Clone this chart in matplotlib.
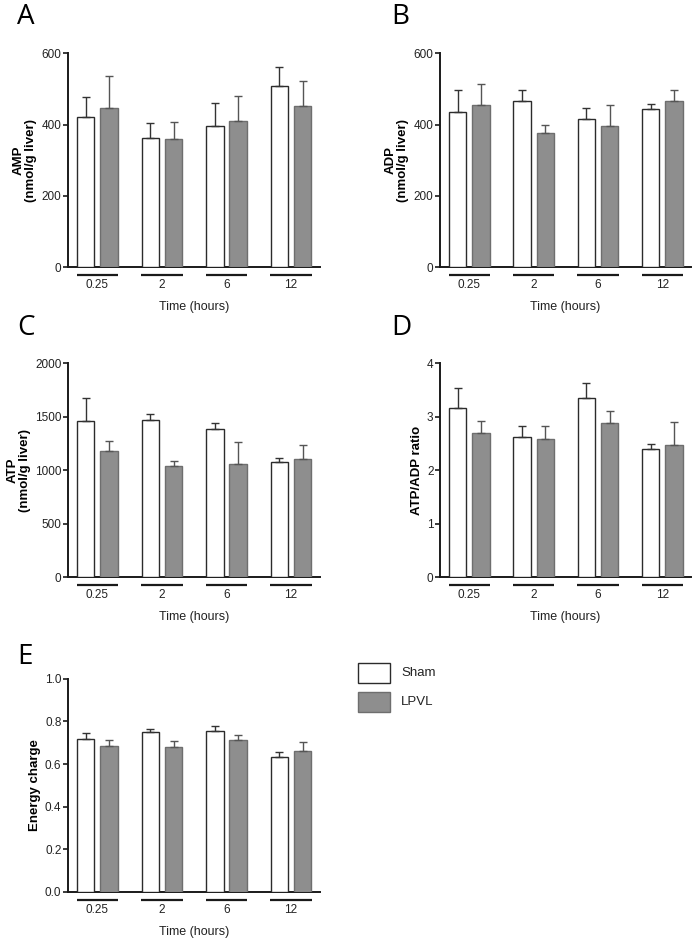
import matplotlib
matplotlib.use("Agg")
import matplotlib.pyplot as plt
import matplotlib.transforms as mtransforms
from matplotlib.patches import Rectangle
import numpy as np

plt.rcParams['font.family'] = ['Liberation Sans', 'DejaVu Sans']

# ---------------- data ----------------
times = ["0.25", "2", "6", "12"]
series = ["Sham", "LPVL"]

amp_sham = [420, 362, 395, 508]
amp_sham_err = [58, 42, 67, 54]
amp_lpvl = [448, 359, 411, 452]
amp_lpvl_err = [87, 49, 68, 69]

adp_sham = [436, 465, 416, 443]
adp_sham_err = [60, 32, 32, 15]
adp_lpvl = [454, 376, 395, 465]
adp_lpvl_err = [61, 24, 59, 33]

atp_sham = [1460, 1470, 1385, 1075]
atp_sham_err = [215, 55, 55, 40]
atp_lpvl = [1180, 1040, 1060, 1110]
atp_lpvl_err = [95, 50, 200, 125]

ratio_sham = [3.17, 2.63, 3.36, 2.39]
ratio_sham_err = [0.36, 0.19, 0.28, 0.11]
ratio_lpvl = [2.69, 2.59, 2.88, 2.47]
ratio_lpvl_err = [0.23, 0.23, 0.22, 0.44]

ec_sham = [0.717, 0.748, 0.753, 0.631]
ec_sham_err = [0.027, 0.016, 0.025, 0.024]
ec_lpvl = [0.684, 0.680, 0.711, 0.661]
ec_lpvl_err = [0.027, 0.029, 0.023, 0.044]

W, H = 696, 939
fig = plt.figure(figsize=(W / 100, H / 100), dpi=100)

WHITE_FILL = "white"
WHITE_EDGE = "#2b2b2b"
GREY_FILL = "#8e8e8e"
GREY_EDGE = "#6e6e6e"
AXC = "#1a1a1a"


def px_axes(left, top, right, bottom):
    return fig.add_axes([left / W, 1 - bottom / H, (right - left) / W, (bottom - top) / H])


def panel(ax, sham, sham_err, lpvl, lpvl_err, ymax, yticks, ylabel, fmt):
    x = np.arange(len(times))
    bw = 0.27
    off = 0.18
    ax.bar(x - off, sham, bw, color=WHITE_FILL, edgecolor=WHITE_EDGE, linewidth=1.0,
           yerr=[np.zeros(len(sham)), sham_err], capsize=2.6,
           error_kw=dict(ecolor="#333333", elinewidth=1.0, capthick=1.0), zorder=3)
    ax.bar(x + off, lpvl, bw, color=GREY_FILL, edgecolor=GREY_EDGE, linewidth=1.0,
           yerr=[np.zeros(len(lpvl)), lpvl_err], capsize=2.6,
           error_kw=dict(ecolor="#555555", elinewidth=1.0, capthick=1.0), zorder=3)
    ax.set_xlim(-0.46, 3.45)
    ax.set_ylim(0, ymax)
    ax.set_yticks(yticks)
    ax.set_yticklabels([fmt(v) for v in yticks])
    for s in ["top", "right"]:
        ax.spines[s].set_visible(False)
    for s in ["left", "bottom"]:
        ax.spines[s].set_linewidth(1.4)
        ax.spines[s].set_color(AXC)
    ax.tick_params(axis="y", length=3.5, width=1.2, color=AXC, labelsize=8.5, pad=1,
                   labelcolor="#222222")
    ax.set_xticks(x)
    ax.set_xticklabels(times)
    ax.tick_params(axis="x", length=0, labelsize=8.5, pad=8.5, labelcolor="#222222")
    trans = mtransforms.blended_transform_factory(ax.transData, ax.transAxes)
    for xi in x:
        ax.plot([xi - 0.32, xi + 0.32], [-0.037, -0.037], transform=trans,
                color=AXC, linewidth=1.6, clip_on=False, solid_capstyle="butt")
    ax.set_xlabel("Time (hours)", fontsize=9, labelpad=7, color="#222222")
    ax.set_ylabel(ylabel, fontsize=9.5, fontweight="bold", labelpad=3, linespacing=1.05)


int_fmt = lambda v: f"{int(v)}"
one_fmt = lambda v: f"{v:.1f}"

axA = px_axes(67.7, 53.3, 320, 267.3)
panel(axA, amp_sham, amp_sham_err, amp_lpvl, amp_lpvl_err, 600, [0, 200, 400, 600],
      "AMP\n(nmol/g liver)", int_fmt)

axB = px_axes(439.7, 53.3, 691.3, 267.3)
panel(axB, adp_sham, adp_sham_err, adp_lpvl, adp_lpvl_err, 600, [0, 200, 400, 600],
      "ADP\n(nmol/g liver)", int_fmt)

axC = px_axes(67.7, 363.3, 320, 577.3)
panel(axC, atp_sham, atp_sham_err, atp_lpvl, atp_lpvl_err, 2000, [0, 500, 1000, 1500, 2000],
      "ATP\n(nmol/g liver)", int_fmt)

axD = px_axes(439.7, 363.3, 691.3, 577.3)
panel(axD, ratio_sham, ratio_sham_err, ratio_lpvl, ratio_lpvl_err, 4, [0, 1, 2, 3, 4],
      "ATP/ADP ratio", int_fmt)

axE = px_axes(67.7, 678.7, 320, 892)
panel(axE, ec_sham, ec_sham_err, ec_lpvl, ec_lpvl_err, 1.0, [0.0, 0.2, 0.4, 0.6, 0.8, 1.0],
      "Energy charge", one_fmt)

# panel letters
for lab, xp, yp in [("A", 17, 3), ("B", 391, 3), ("C", 17, 314), ("D", 391, 314), ("E", 17, 643)]:
    fig.text(xp / W, 1 - yp / H, lab, fontsize=20, va="top", ha="left",
             family=["Open Sans", "DejaVu Sans"])

# legend
for i, (name, fc, ec) in enumerate(zip(series, [WHITE_FILL, GREY_FILL], [WHITE_EDGE, GREY_EDGE])):
    top = 663 + i * 29
    fig.patches.append(Rectangle((357.5 / W, 1 - (top + 20) / H), 32.5 / W, 20 / H,
                                 transform=fig.transFigure, facecolor=fc, edgecolor=ec,
                                 linewidth=1.0))
    fig.text(401 / W, 1 - (top + 10) / H, name, fontsize=9.5, va="center", ha="left",
             color="#222222")

fig.savefig("out.png", dpi=100)
